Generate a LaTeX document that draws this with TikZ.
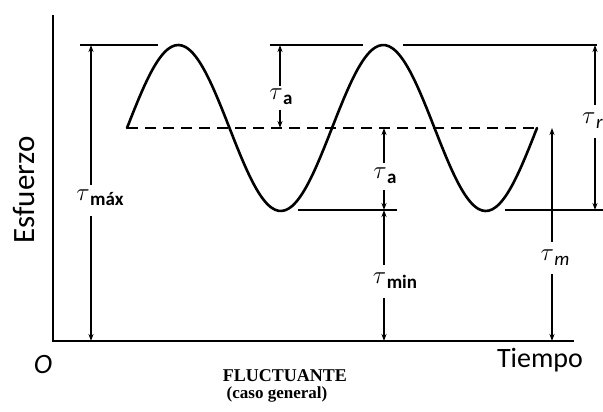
\documentclass[tikz,border=0pt]{standalone}
\usepackage{fontspec}
\setmainfont{Carlito}
\newfontfamily\serifb{Liberation Serif}
\usetikzlibrary{arrows.meta}
\newcommand{\taulab}[1]{{\fontsize{32}{32}\selectfont$\tau$}\kern0.5pt{\fontsize{19}{19}\selectfont\raisebox{-5pt}{#1}}}
\tikzset{
  axisline/.style={line width=2pt},
  curveline/.style={line width=2.6pt},
  refline/.style={line width=1.3pt},
  dimline/.style={line width=1.2pt,-{Stealth[length=7pt,width=5pt]}},
  dimlab/.style={inner sep=1pt},
  axlab/.style={inner sep=0pt,font=\fontsize{28}{30}\selectfont}
}
\begin{document}
\begin{tikzpicture}[x=1pt,y=-1pt]
\useasboundingbox (0,0) rectangle (603,412);
\clip (0,0) rectangle (603,412);
% axes
\coordinate (ytop) at (53,15);
\coordinate (orig) at (53,341);
\coordinate (xend) at (574,341);
\draw[axisline] (ytop) -- (orig) -- (xend);
% reference levels
\coordinate (maxA1) at (80,45);   \coordinate (maxA2) at (158,45);
\coordinate (maxB1) at (270,45);  \coordinate (maxB2) at (363,45);
\coordinate (maxC1) at (403,45);  \coordinate (maxC2) at (597,45);
\coordinate (minA1) at (298,210); \coordinate (minA2) at (397,210);
\coordinate (minB1) at (505,210); \coordinate (minB2) at (603,210);
\draw[refline] (maxA1) -- (maxA2);
\draw[refline] (maxB1) -- (maxB2);
\draw[refline] (maxC1) -- (maxC2);
\draw[refline] (minA1) -- (minA2);
\draw[refline] (minB1) -- (minB2);
% mean dashed line
\coordinate (meanL) at (127,128);
\coordinate (meanR) at (537,128);
\draw[refline,dash pattern=on 11pt off 7pt] (meanL) -- (meanR);
% curve
\draw[curveline,line cap=round] plot[domain=127:537,samples=120,smooth] (\x,{128-83*sin(((\x-127)/205)*360)});
% tau max
\coordinate (tmaxT) at (91,45); \coordinate (tmaxB) at (91,341);
\node[dimlab] (tmax) at (100,198) {\taulab{\bfseries máx}};
\draw[dimline] (91,185) -- (tmaxT);
\draw[dimline] (91,216) -- (tmaxB);
% tau a upper
\coordinate (taT) at (280,45); \coordinate (taB) at (280,128);
\node[dimlab] (ta1) at (281,97) {\taulab{\bfseries a}};
\draw[dimline] (280,86) -- (taT);
\draw[dimline] (280,110) -- (taB);
% tau a lower
\coordinate (tbT) at (384,128); \coordinate (tbB) at (384,210);
\node[dimlab] (ta2) at (385,176) {\taulab{\bfseries a}};
\draw[dimline] (384,163) -- (tbT);
\draw[dimline] (384,190) -- (tbB);
% tau min
\coordinate (tminT) at (384,210); \coordinate (tminB) at (384,341);
\node[dimlab] (tmin) at (395,281) {\taulab{\bfseries min}};
\draw[dimline] (384,265) -- (tminT);
\draw[dimline] (384,298) -- (tminB);
% tau r
\coordinate (trT) at (595,45); \coordinate (trB) at (595,210);
\node[dimlab,anchor=west] (tr) at (581,121) {\taulab{\itshape r}};
\draw[dimline] (595,105) -- (trT);
\draw[dimline] (595,138) -- (trB);
% tau m
\coordinate (tmT) at (552,128); \coordinate (tmB) at (552,341);
\node[dimlab] (tm) at (555,258) {\taulab{\itshape m}};
\draw[dimline] (552,242) -- (tmT);
\draw[dimline] (552,274) -- (tmB);
% axis labels
\node[inner sep=0pt,font=\fontsize{31}{32}\selectfont,rotate=90] (yl) at (24,190) {Esfuerzo};
\node[axlab] (ol) at (43,365) {\itshape O};
\node[axlab] (tl) at (540,360) {Tiempo};
\node[inner sep=0pt,font=\serifb\bfseries\fontsize{18}{20}\selectfont] (f1) at (285,376) {FLUCTUANTE};
\node[inner sep=0pt,font=\serifb\bfseries\fontsize{17}{20}\selectfont] (f2) at (277,394) {(caso general)};
\end{tikzpicture}
\end{document}
